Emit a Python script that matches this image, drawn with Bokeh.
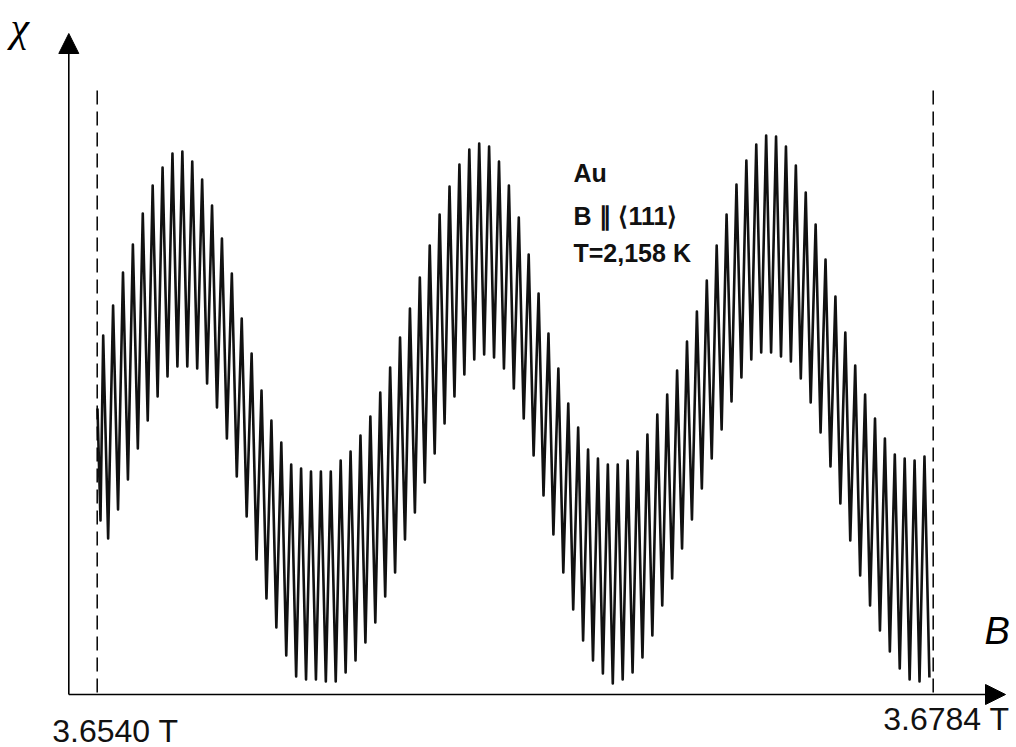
import numpy as np
from bokeh.plotting import figure
from bokeh.models import Range1d, Label, Arrow, NormalHead
from bokeh.embed import file_html
from bokeh.resources import INLINE

# ---------------- data ----------------
B_MIN = 3.6540            # T, left dashed line
B_MAX = 3.6784            # T, right dashed line
TICK_VALUES = [B_MIN, B_MAX]
TICK_LABELS = ["3.6540 T", "3.6784 T"]

# fast (belly) oscillation: field of the first maximum and period between maxima
FIRST_TOP_B = 3.654175    # T
FAST_PERIOD_B = 2.888e-4  # T

# first samples of the trace (before the first maximum)
START_B = [3.654009, 3.654096]
START_CHI = [284, 172]

# chi (arb. units) at each maximum of the fast oscillation
TOPS = [357, 387, 420, 448, 479, 507, 525, 539, 541, 531,
        513, 487, 454, 419, 374, 339, 302, 272, 250, 228,
        224, 221, 221, 221, 232, 241, 257, 276, 300, 325,
        355, 384, 415, 447, 478, 506, 528, 543, 549, 546,
        531, 507, 475, 438, 399, 359, 324, 289, 265, 243,
        234, 228, 228, 232, 241, 258, 278, 298, 322, 351,
        381, 412, 447, 478, 508, 532, 548, 557, 556, 546,
        527, 500, 468, 433, 396, 360, 327, 298, 274, 254,
        238, 234, 232, 236]

# chi (arb. units) at each minimum following a maximum
BOTTOMS = [154, 183, 213, 244, 272, 296, 316, 326, 326, 324,
           309, 285, 254, 216, 176, 133, 94, 65, 37, 16,
           13, 13, 11, 11, 20, 32, 50, 70, 96, 120,
           153, 180, 210, 239, 269, 296, 318, 333, 338, 335,
           324, 304, 274, 237, 197, 158, 120, 83, 52, 32,
           19, 9, 13, 20, 35, 57, 87, 114, 144, 173,
           204, 234, 263, 291, 315, 333, 340, 340, 336, 331,
           314, 290, 260, 226, 189, 152, 117, 87, 62, 41,
           24, 13, 11, 15]

# ---------------- layout ----------------
W, H = 1016, 747
B_PER_PX = (B_MAX - B_MIN) / 836.0
X0 = B_MIN - 96.7 * B_PER_PX
X1 = X0 + W * B_PER_PX
Y1 = 692.0
Y0 = Y1 - H
TXT_SHIFT = 12  # text baseline correction (px)


def bx(px):
    """picture x pixel -> field"""
    return X0 + px * (X1 - X0) / W


def cy(py):
    """picture y pixel -> chi"""
    return Y1 - py * (Y1 - Y0) / H


def ty(py):
    return cy(py - TXT_SHIFT)


p = figure(width=W, height=H, output_backend="svg", toolbar_location=None,
           x_range=Range1d(X0, X1), y_range=Range1d(Y0, Y1),
           x_axis_type=None, y_axis_type=None, min_border=0,
           outline_line_color=None, background_fill_color="white",
           border_fill_color="white")
p.grid.visible = False

# trace: interleave maxima and minima
n = len(TOPS)
idx = np.arange(n)
top_b = FIRST_TOP_B + idx * FAST_PERIOD_B
bot_b = top_b + 0.5 * FAST_PERIOD_B
xs = list(START_B)
ys = list(START_CHI)
for i in range(n):
    xs += [top_b[i], bot_b[i]]
    ys += [TOPS[i], BOTTOMS[i]]
p.line(xs, ys, line_color="#111111", line_width=2.6, line_join="round")

# dashed limit lines
p.segment(x0=TICK_VALUES, y0=[cy(692)] * 2, x1=TICK_VALUES, y1=[cy(83)] * 2,
          line_color="black", line_width=1.5, line_dash="14 7")

# axes with arrows
p.add_layout(Arrow(end=NormalHead(size=20, fill_color="black", line_color="black"),
                   x_start=bx(68.3), y_start=cy(694), x_end=bx(1005), y_end=cy(694),
                   line_color="black", line_width=1.6))
p.add_layout(Arrow(end=NormalHead(size=20, fill_color="black", line_color="black"),
                   x_start=bx(68.3), y_start=cy(694), x_end=bx(68.3), y_end=cy(33),
                   line_color="black", line_width=1.6))

# tick labels
p.add_layout(Label(x=TICK_VALUES[0], y=ty(742), text=TICK_LABELS[0], x_offset=-45,
                   text_font="Liberation Sans", text_font_size="32px",
                   text_color="#111111", text_baseline="alphabetic"))
p.add_layout(Label(x=TICK_VALUES[1], y=ty(730), text=TICK_LABELS[1], x_offset=-50,
                   text_font="Liberation Sans", text_font_size="32px",
                   text_color="#111111", text_baseline="alphabetic"))

# axis names
p.add_layout(Label(x=bx(10), y=ty(38), text="χ", text_font="Liberation Serif",
                   text_font_style="italic", text_font_size="42px",
                   text_color="black", text_baseline="alphabetic"))
p.add_layout(Label(x=bx(984), y=ty(642), text="B", text_font="Liberation Sans",
                   text_font_style="italic", text_font_size="38px",
                   text_color="black", text_baseline="alphabetic"))

# annotation
for txt, base in [("Au", 184), ("B ∥ ⟨111⟩", 227), ("T=2,158 K", 264)]:
    p.add_layout(Label(x=bx(573), y=ty(base), text=txt, text_font="Liberation Sans",
                       text_font_style="bold", text_font_size="25px",
                       text_color="#111111", text_baseline="alphabetic"))

open("out.html", "w").write(file_html(p, INLINE))
